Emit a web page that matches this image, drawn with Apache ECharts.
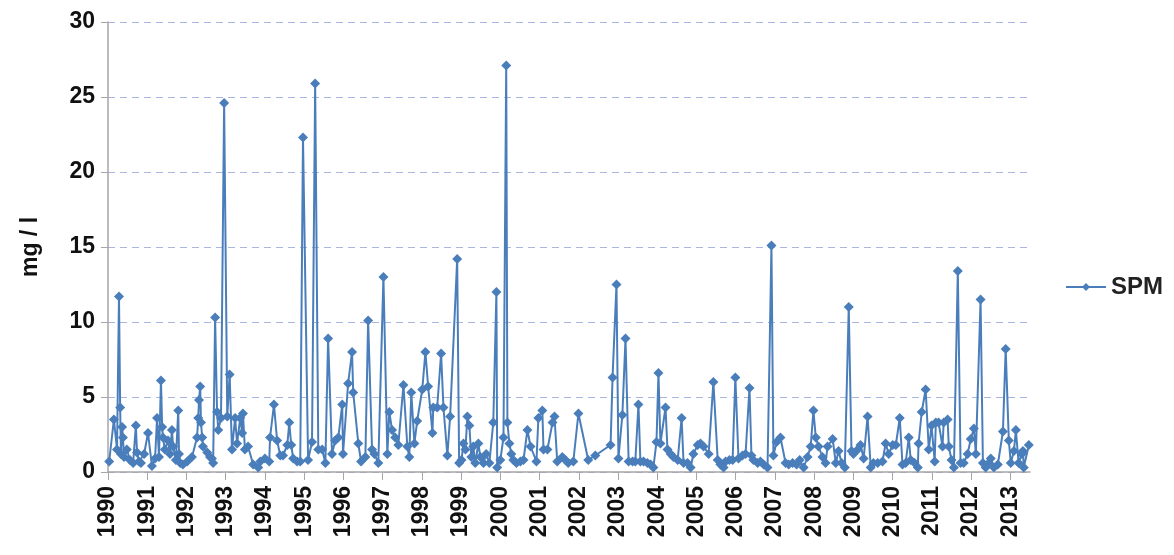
<!DOCTYPE html>
<html><head><meta charset="utf-8">
<script src="https://cdn.jsdelivr.net/npm/echarts@6/dist/echarts.min.js"></script>
<style>html,body{margin:0;padding:0;background:#fff}#c{width:1174px;height:555px}</style>
</head><body><div id="c"></div>
<script>
const yearTicks = [1990,1991,1992,1993,1994,1995,1996,1997,1998,1999,2000,2001,2002,2003,2004,2005,2006,2007,2008,2009,2010,2011,2012,2013];
const yTicks = [0,5,10,15,20,25,30];
const seriesName = 'SPM';
const times = [
1990.03,1990.15,1990.23,1990.28,1990.31,1990.33,1990.36,1990.38,1990.41,1990.48,1990.56,1990.64,1990.71,1990.74,1990.79,1990.84,1990.92,
1991.02,1991.12,1991.20,1991.25,1991.30,1991.35,1991.38,1991.40,1991.45,1991.53,1991.58,1991.63,1991.66,1991.73,1991.79,1991.81,1991.84,1991.91,
1992.02,1992.14,1992.27,1992.30,1992.32,1992.35,1992.37,1992.40,1992.42,1992.53,1992.60,1992.65,1992.68,1992.73,1992.78,1992.81,1992.88,1992.96,
1993.04,1993.10,1993.16,1993.24,1993.29,1993.37,1993.42,1993.44,1993.49,1993.57,1993.70,1993.83,1993.88,
1994.00,1994.11,1994.13,1994.23,1994.31,1994.39,1994.46,1994.57,1994.62,1994.67,1994.72,1994.82,1994.90,1994.97,
1995.10,1995.20,1995.28,1995.36,1995.46,1995.54,1995.61,1995.71,1995.79,1995.87,1995.97,1995.99,
1996.12,1996.22,1996.25,1996.38,1996.45,1996.56,1996.63,1996.73,1996.79,1996.89,
1997.02,1997.12,1997.17,1997.24,1997.32,1997.40,1997.53,1997.63,1997.68,1997.73,1997.81,1997.88,
1998.01,1998.09,1998.16,1998.27,1998.29,1998.39,1998.49,1998.55,1998.65,1998.72,1998.90,1998.95,
1999.01,1999.06,1999.11,1999.16,1999.21,1999.26,1999.31,1999.36,1999.44,1999.49,1999.57,1999.64,1999.72,1999.82,1999.90,1999.92,
2000.00,2000.08,2000.15,2000.18,2000.23,2000.28,2000.33,2000.41,2000.51,2000.59,2000.69,2000.77,2000.92,2000.97,
2001.07,2001.10,2001.20,2001.33,2001.38,2001.45,2001.58,2001.66,2001.73,2001.86,2001.99,
2002.24,2002.42,2002.81,2002.86,2002.96,
2003.01,2003.11,2003.19,2003.27,2003.37,2003.44,2003.52,2003.57,2003.65,2003.75,2003.83,2003.90,2003.98,
2004.03,2004.08,2004.21,2004.26,2004.34,2004.41,2004.52,2004.62,2004.67,2004.77,2004.85,2004.92,
2005.03,2005.10,2005.18,2005.31,2005.43,2005.54,2005.61,2005.69,2005.74,2005.84,2005.92,2005.99,
2006.07,2006.17,2006.25,2006.35,2006.40,2006.45,2006.56,2006.63,2006.71,2006.81,2006.91,2006.96,
2007.04,2007.14,2007.27,2007.35,2007.45,2007.55,2007.63,2007.73,2007.83,2007.91,2007.98,
2008.04,2008.11,2008.21,2008.29,2008.34,2008.47,2008.55,2008.62,2008.70,2008.78,2008.88,2008.95,
2009.00,2009.11,2009.18,2009.26,2009.36,2009.44,2009.51,2009.62,2009.74,2009.82,2009.90,
2010.00,2010.08,2010.18,2010.25,2010.33,2010.41,2010.46,2010.56,2010.64,2010.66,2010.74,2010.84,2010.92,2010.99,
2011.07,2011.10,2011.17,2011.27,2011.30,2011.40,2011.43,2011.50,2011.56,2011.66,2011.73,2011.81,2011.91,2011.99,
2012.07,2012.12,2012.24,2012.30,2012.37,2012.45,2012.50,2012.58,2012.68,2012.81,2012.88,2012.96,
2013.01,2013.09,2013.14,2013.21,2013.29,2013.32,2013.34,2013.47
];
const spm = [
0.7,3.5,1.5,11.7,4.3,1.2,3.0,2.3,1.0,1.5,0.8,0.6,3.1,1.3,0.7,0.6,1.2,
2.6,0.4,0.9,3.6,1.0,6.1,3.0,2.3,1.5,2.1,1.2,2.8,1.7,0.8,4.1,1.2,0.6,0.5,
0.7,1.0,2.3,3.6,4.8,5.7,3.3,2.3,1.7,1.3,1.0,0.9,0.6,10.3,4.0,2.8,3.6,24.6,
3.7,6.5,1.5,3.6,1.9,3.6,2.6,3.9,1.5,1.7,0.5,0.3,0.7,
0.9,0.7,2.3,4.5,2.1,1.1,1.1,1.8,3.3,1.8,0.9,0.7,0.7,22.3,
0.8,2.0,25.9,1.5,1.5,0.6,8.9,1.2,2.1,2.3,4.5,1.2,
5.9,8.0,5.3,1.9,0.7,1.0,10.1,1.5,1.2,0.6,
13.0,1.2,4.0,2.8,2.3,1.8,5.8,1.7,1.0,5.3,1.9,3.4,
5.5,8.0,5.7,2.6,4.3,4.3,7.9,4.3,1.1,3.7,14.2,0.6,
0.8,1.9,1.5,3.7,3.1,1.0,1.7,0.6,1.9,1.0,0.6,1.2,0.6,3.3,12.0,0.3,
0.8,2.3,27.1,3.3,1.9,1.2,0.8,0.6,0.7,0.8,2.8,1.7,0.7,3.6,
4.1,1.5,1.5,3.3,3.7,0.7,1.0,0.8,0.6,0.7,3.9,
0.8,1.1,1.8,6.3,12.5,
0.9,3.8,8.9,0.7,0.7,0.7,4.5,0.7,0.7,0.6,0.5,0.3,2.0,
6.6,1.9,4.3,1.5,1.2,1.0,0.8,3.6,0.6,0.6,0.3,1.2,
1.8,1.9,1.7,1.2,6.0,0.8,0.5,0.3,0.7,0.8,0.8,6.3,
0.9,1.1,1.2,5.6,1.1,0.8,0.6,0.7,0.5,0.3,15.1,1.1,
2.0,2.3,0.6,0.5,0.6,0.5,0.8,0.3,1.0,1.7,4.1,
2.3,1.7,1.0,0.6,1.7,2.2,0.6,1.4,0.6,0.3,11.0,1.4,
1.2,1.5,1.8,0.9,3.7,0.3,0.6,0.6,0.7,1.9,1.2,
1.8,1.8,3.6,0.5,0.6,2.3,0.8,0.6,0.3,1.9,4.0,5.5,1.5,3.1,
0.7,3.3,3.3,1.7,3.3,3.5,1.7,0.8,0.3,13.4,0.6,0.6,1.2,2.2,
2.9,1.2,11.5,0.6,0.3,0.6,0.9,0.3,0.5,2.7,8.2,2.1,
0.6,1.4,2.8,0.6,1.2,1.4,0.3,1.8
];
const points = times.map((t, i) => [t, spm[i]]);
const chart = echarts.init(document.getElementById('c'), null, {renderer: 'canvas'});
const FONT = 'Liberation Sans';
chart.setOption({
  animation: false,
  backgroundColor: '#fff',
  grid: {left: 108, right: 144, top: 22, bottom: 83, containLabel: false},
  legend: {
    show: true, left: 1060, top: 270, orient: 'vertical',
    itemWidth: 40, itemHeight: 10, itemGap: 6,
    textStyle: {fontFamily: FONT, fontSize: 24, fontWeight: 'bold', color: '#222'},
    data: [seriesName]
  },
  xAxis: {
    type: 'value', min: 1990, max: 2013.5, interval: 1,
    axisLine: {show: true, lineStyle: {color: '#a6a6a6', width: 1.5}},
    axisTick: {show: true, length: 8, lineStyle: {color: '#a6a6a6'}, customValues: yearTicks},
    axisLabel: {
      customValues: yearTicks, rotate: 90, margin: 14,
      fontFamily: FONT, fontSize: 23, fontWeight: 'bold', color: '#111',
      formatter: v => String(Math.round(v))
    },
    splitLine: {show: false}
  },
  yAxis: {
    type: 'value', min: 0, max: 30, interval: 5,
    name: 'mg / l', nameLocation: 'middle', nameGap: 66, nameRotate: 90,
    nameTextStyle: {fontFamily: FONT, fontSize: 23, fontWeight: 'bold', color: '#111'},
    axisLine: {show: true, lineStyle: {color: '#a6a6a6', width: 1.5}},
    axisTick: {show: true, length: 7, lineStyle: {color: '#a6a6a6'}},
    axisLabel: {fontFamily: FONT, fontSize: 23, fontWeight: 'bold', color: '#111', margin: 13},
    splitLine: {show: true, lineStyle: {color: '#a9b6dd', type: [7, 5], width: 1.2}}
  },
  series: [{
    name: seriesName, type: 'line', data: points,
    symbol: 'diamond', symbolSize: 10, showSymbol: true,
    lineStyle: {color: '#4a7ebb', width: 2},
    itemStyle: {color: '#4a7ebb'}
  }]
});
</script></body></html>
